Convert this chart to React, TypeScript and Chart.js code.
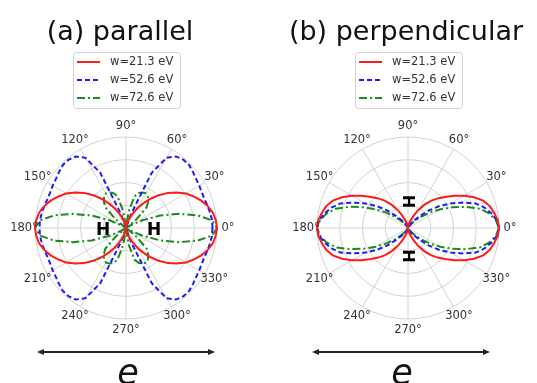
import React, { useEffect, useRef } from 'react';
import { Chart, registerables } from 'chart.js';

Chart.register(...registerables);

// Polar angle of each sample (degrees), 0..355 step 5
const angles = [
  0, 5, 10, 15, 20, 25, 30, 35, 40, 45, 50, 55, 60, 65, 70, 75, 80, 85, 90,
  95, 100, 105, 110, 115, 120, 125, 130, 135, 140, 145, 150, 155, 160, 165, 170, 175, 180,
  185, 190, 195, 200, 205, 210, 215, 220, 225, 230, 235, 240, 245, 250, 255, 260, 265, 270,
  275, 280, 285, 290, 295, 300, 305, 310, 315, 320, 325, 330, 335, 340, 345, 350, 355,
];

const angleTickLabels = ['0°', '30°', '60°', '90°', '120°', '150°', '180°', '210°', '240°', '270°', '300°', '330°'];
const seriesLabels = ['w=21.3 eV', 'w=52.6 eV', 'w=72.6 eV'];
const panelTitles = ['(a) parallel', '(b) perpendicular'];

// (a) parallel
const parRed = [
  1.00, 0.99, 0.97, 0.93, 0.88, 0.82, 0.76, 0.68, 0.60, 0.51, 0.42, 0.33, 0.25, 0.18, 0.12, 0.07, 0.03, 0.01, 0.00,
  0.01, 0.03, 0.07, 0.12, 0.18, 0.25, 0.33, 0.42, 0.51, 0.60, 0.68, 0.76, 0.82, 0.88, 0.93, 0.97, 0.99, 1.00,
  0.99, 0.97, 0.93, 0.88, 0.82, 0.76, 0.68, 0.60, 0.51, 0.42, 0.33, 0.25, 0.18, 0.12, 0.07, 0.03, 0.01, 0.00,
  0.01, 0.03, 0.07, 0.12, 0.18, 0.25, 0.33, 0.42, 0.51, 0.60, 0.68, 0.76, 0.82, 0.88, 0.93, 0.97, 0.99,
];
const parBlue = [
  0.95, 0.95, 0.94, 0.93, 0.92, 0.92, 0.93, 0.94, 0.96, 0.98, 0.98, 0.96, 0.89, 0.67, 0.17, 0.02, 0.00, 0.00, 0.00,
  0.00, 0.00, 0.02, 0.17, 0.67, 0.89, 0.96, 0.98, 0.98, 0.96, 0.94, 0.93, 0.92, 0.92, 0.93, 0.94, 0.95, 0.95,
  0.95, 0.94, 0.93, 0.92, 0.92, 0.93, 0.94, 0.96, 0.98, 0.98, 0.96, 0.89, 0.67, 0.17, 0.02, 0.00, 0.00, 0.00,
  0.00, 0.00, 0.02, 0.17, 0.67, 0.89, 0.96, 0.98, 0.98, 0.96, 0.94, 0.93, 0.92, 0.92, 0.93, 0.94, 0.95,
];
const parGreen = [
  1.00, 0.95, 0.80, 0.60, 0.40, 0.20, 0.06, 0.02, 0.15, 0.32, 0.38, 0.42, 0.44, 0.43, 0.41, 0.36, 0.20, 0.04, 0.00,
  0.04, 0.20, 0.36, 0.41, 0.43, 0.44, 0.42, 0.38, 0.32, 0.15, 0.02, 0.06, 0.20, 0.40, 0.60, 0.80, 0.95, 1.00,
  0.95, 0.80, 0.60, 0.40, 0.20, 0.06, 0.02, 0.15, 0.32, 0.38, 0.42, 0.44, 0.43, 0.41, 0.36, 0.20, 0.04, 0.00,
  0.04, 0.20, 0.36, 0.41, 0.43, 0.44, 0.42, 0.38, 0.32, 0.15, 0.02, 0.06, 0.20, 0.40, 0.60, 0.80, 0.95,
];

// (b) perpendicular
const perRed = [
  1.00, 0.99, 0.96, 0.93, 0.88, 0.80, 0.71, 0.62, 0.53, 0.46, 0.39, 0.31, 0.23, 0.16, 0.10, 0.06, 0.03, 0.01, 0.00,
  0.01, 0.03, 0.06, 0.10, 0.16, 0.23, 0.31, 0.39, 0.46, 0.53, 0.62, 0.71, 0.80, 0.88, 0.93, 0.96, 0.99, 1.00,
  0.99, 0.96, 0.93, 0.88, 0.80, 0.71, 0.62, 0.53, 0.46, 0.39, 0.31, 0.23, 0.16, 0.10, 0.06, 0.03, 0.01, 0.00,
  0.01, 0.03, 0.06, 0.10, 0.16, 0.23, 0.31, 0.39, 0.46, 0.53, 0.62, 0.71, 0.80, 0.88, 0.93, 0.96, 0.99,
];
const perBlue = [
  1.00, 0.98, 0.93, 0.87, 0.79, 0.66, 0.54, 0.42, 0.30, 0.19, 0.11, 0.06, 0.03, 0.02, 0.01, 0.00, 0.00, 0.00, 0.00,
  0.00, 0.00, 0.00, 0.01, 0.02, 0.03, 0.06, 0.11, 0.19, 0.30, 0.42, 0.54, 0.66, 0.79, 0.87, 0.93, 0.98, 1.00,
  0.98, 0.93, 0.87, 0.79, 0.66, 0.54, 0.42, 0.30, 0.19, 0.11, 0.06, 0.03, 0.02, 0.01, 0.00, 0.00, 0.00, 0.00,
  0.00, 0.00, 0.00, 0.01, 0.02, 0.03, 0.06, 0.11, 0.19, 0.30, 0.42, 0.54, 0.66, 0.79, 0.87, 0.93, 0.98,
];
const perGreen = [
  1.00, 0.97, 0.91, 0.82, 0.68, 0.54, 0.41, 0.30, 0.20, 0.12, 0.07, 0.04, 0.02, 0.01, 0.00, 0.00, 0.00, 0.00, 0.00,
  0.00, 0.00, 0.00, 0.00, 0.01, 0.02, 0.04, 0.07, 0.12, 0.20, 0.30, 0.41, 0.54, 0.68, 0.82, 0.91, 0.97, 1.00,
  0.97, 0.91, 0.82, 0.68, 0.54, 0.41, 0.30, 0.20, 0.12, 0.07, 0.04, 0.02, 0.01, 0.00, 0.00, 0.00, 0.00, 0.00,
  0.00, 0.00, 0.00, 0.00, 0.01, 0.02, 0.04, 0.07, 0.12, 0.20, 0.30, 0.41, 0.54, 0.68, 0.82, 0.91, 0.97,
];

const FONT = '"DejaVu Sans", sans-serif';
const GRID = '#d2d2d2';
const LINE_STYLES = [
  { color: '#ff1a1a', dash: [] as number[] },
  { color: '#1a1aff', dash: [5, 3] },
  { color: '#1a8a1a', dash: [8, 3, 2, 3] },
];

// radar index k runs clockwise from the right; map it to counter-clockwise angles
const order = angles.map((_, k) => (angles.length - k) % angles.length);

type PanelCfg = {
  title: string;
  left: number;
  width: number;
  cx: number;
  titleX: number;
  arrow: [number, number];
  eX: number;
  hMode: 'horizontal' | 'vertical';
  series: number[][];
};

const panels: PanelCfg[] = [
  { title: panelTitles[0], left: 0, width: 268, cx: 126, titleX: 120, arrow: [37, 215], eX: 128, hMode: 'horizontal', series: [parRed, parBlue, parGreen] },
  { title: panelTitles[1], left: 268, width: 269, cx: 408, titleX: 406, arrow: [312, 490], eX: 402, hMode: 'vertical', series: [perRed, perBlue, perGreen] },
];

const CY = 228;
const R = 91;
const H = 383;

function PolarPanel({ cfg }: { cfg: PanelCfg }) {
  const ref = useRef<HTMLCanvasElement | null>(null);
  useEffect(() => {
    const canvas = ref.current;
    if (!canvas) return;
    const lx = (x: number) => x - cfg.left;
    const overlay = {
      id: 'overlay',
      afterDraw(chart: any) {
        const ctx = chart.ctx as CanvasRenderingContext2D;
        const scale = chart.scales.r;
        ctx.save();
        // title
        ctx.fillStyle = '#111';
        ctx.font = `27px ${FONT}`;
        ctx.textAlign = 'center';
        ctx.textBaseline = 'alphabetic';
        ctx.fillText(cfg.title, lx(cfg.titleX), 40);

        // legend box
        const bx = lx(cfg.cx) - 53;
        const by = 52;
        const bw = 107;
        const bh = 56;
        ctx.fillStyle = '#fff';
        ctx.strokeStyle = '#d0d0d0';
        ctx.lineWidth = 1;
        ctx.beginPath();
        (ctx as any).roundRect(bx + 0.5, by + 0.5, bw, bh, 3);
        ctx.fill();
        ctx.stroke();
        chart.data.datasets.forEach((ds: any, i: number) => {
          const y = by + 10 + i * 18;
          ctx.strokeStyle = ds.borderColor;
          ctx.lineWidth = 2;
          ctx.setLineDash(ds.borderDash || []);
          ctx.beginPath();
          ctx.moveTo(bx + 4, y);
          ctx.lineTo(bx + 27, y);
          ctx.stroke();
          ctx.setLineDash([]);
          ctx.fillStyle = '#333';
          ctx.font = `11.5px ${FONT}`;
          ctx.textAlign = 'left';
          ctx.textBaseline = 'middle';
          ctx.fillText(ds.label, bx + 37, y + 0.5);
        });

        // angular tick labels
        ctx.fillStyle = '#333';
        ctx.font = `11.5px ${FONT}`;
        ctx.textAlign = 'center';
        ctx.textBaseline = 'middle';
        chart.data.labels.forEach((a: number, k: number) => {
          if (a % 30 !== 0) return;
          const p = scale.getPointPosition(k, scale.drawingArea + 11);
          ctx.fillText(angleTickLabels[a / 30], p.x, p.y);
        });

        // H atoms
        ctx.fillStyle = '#000';
        ctx.textAlign = 'center';
        ctx.textBaseline = 'middle';
        const c = scale.xCenter;
        const cy = scale.yCenter;
        if (cfg.hMode === 'horizontal') {
          ctx.font = `bold 17px ${FONT}`;
          ctx.fillText('H', c - 23, cy + 3);
          ctx.fillText('H', c + 28, cy + 3);
        } else {
          ctx.font = `bold 16px ${FONT}`;
          [cy - 26.5, cy + 28].forEach((yy) => {
            ctx.save();
            ctx.translate(c + 0.5, yy);
            ctx.rotate(Math.PI / 2);
            ctx.fillText('H', 0, 1);
            ctx.restore();
          });
        }

        // polarization arrow
        const ay = 352;
        const [x1, x2] = [lx(cfg.arrow[0]), lx(cfg.arrow[1])];
        ctx.strokeStyle = '#222';
        ctx.fillStyle = '#222';
        ctx.lineWidth = 1.8;
        ctx.beginPath();
        ctx.moveTo(x1 + 3, ay);
        ctx.lineTo(x2 - 3, ay);
        ctx.stroke();
        ctx.beginPath();
        ctx.moveTo(x1, ay);
        ctx.lineTo(x1 + 7, ay - 3);
        ctx.lineTo(x1 + 7, ay + 3);
        ctx.closePath();
        ctx.fill();
        ctx.beginPath();
        ctx.moveTo(x2, ay);
        ctx.lineTo(x2 - 7, ay - 3);
        ctx.lineTo(x2 - 7, ay + 3);
        ctx.closePath();
        ctx.fill();

        ctx.fillStyle = '#111';
        ctx.font = `italic 35px ${FONT}`;
        ctx.textAlign = 'center';
        ctx.textBaseline = 'alphabetic';
        ctx.fillText('e', lx(cfg.eX), 384);
        ctx.restore();
      },
    };

    const chart = new Chart(canvas, {
      type: 'radar',
      data: {
        labels: order.map((i) => angles[i]),
        datasets: cfg.series.map((s, j) => ({
          label: seriesLabels[j],
          data: order.map((i) => s[i]),
          borderColor: LINE_STYLES[j].color,
          borderDash: LINE_STYLES[j].dash,
          borderWidth: 2,
          pointRadius: 0,
          fill: false,
          tension: 0,
          clip: false,
        })),
      },
      options: {
        responsive: false,
        animation: false,
        layout: {
          padding: {
            left: lx(cfg.cx) - R,
            right: cfg.width - (lx(cfg.cx) + R),
            top: CY - R,
            bottom: H - (CY + R),
          },
        },
        plugins: { legend: { display: false }, tooltip: { enabled: false } },
        scales: {
          r: {
            min: 0,
            max: 1,
            startAngle: 90,
            ticks: { display: false, stepSize: 0.25 },
            grid: { circular: true, color: GRID, lineWidth: 1 },
            angleLines: {
              display: true,
              color: GRID,
              lineWidth: (ctx: any) => (ctx.index % 6 === 0 ? 1 : 0),
            },
            pointLabels: { display: false },
          },
        },
      },
      plugins: [overlay],
    } as any);
    return () => chart.destroy();
  }, [cfg]);

  return (
    <canvas
      ref={ref}
      width={cfg.width}
      height={H}
      style={{ position: 'absolute', left: cfg.left, top: 0, width: cfg.width, height: H, display: 'block' }}
    />
  );
}

export default function App() {
  return (
    <div style={{ position: 'fixed', left: 0, top: 0, width: 537, height: 383, background: '#fff', overflow: 'hidden' }}>
      {panels.map((p) => (
        <PolarPanel key={p.title} cfg={p} />
      ))}
    </div>
  );
}
